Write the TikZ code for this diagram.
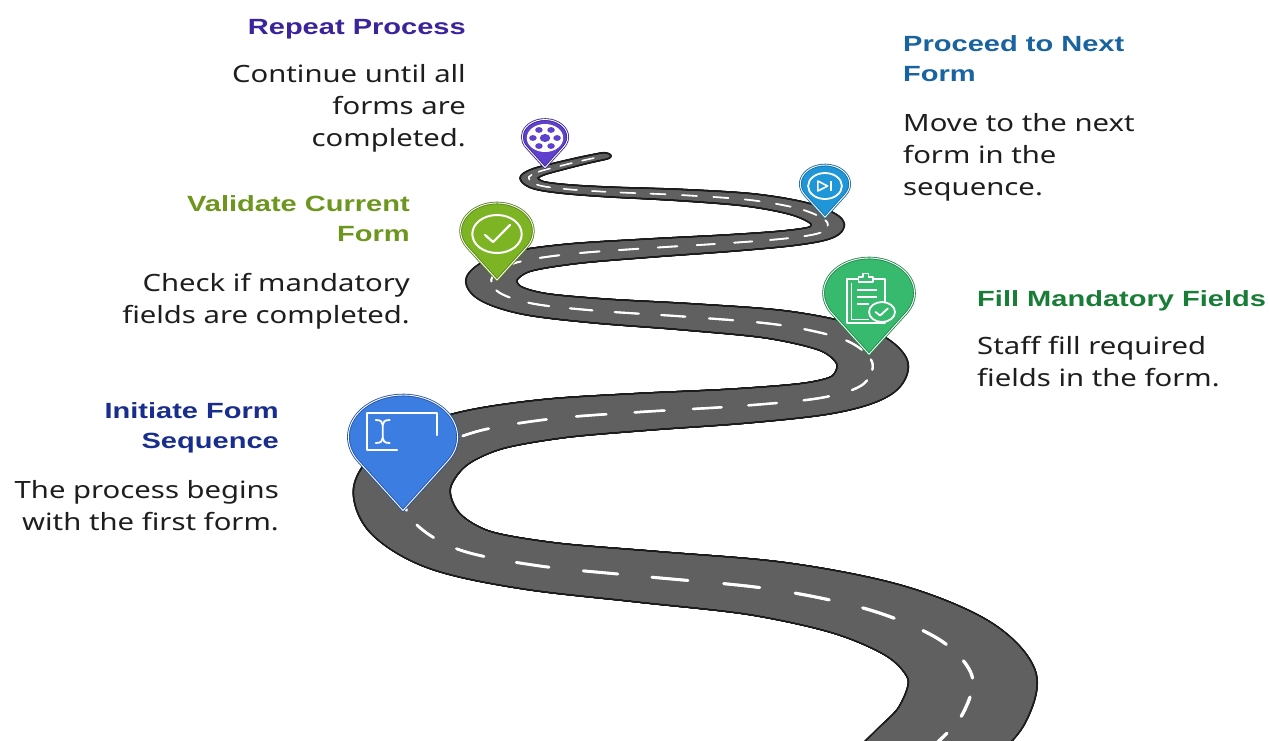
\documentclass[tikz,border=0pt]{standalone}
\usepackage{fontspec}
\setmainfont{Noto Sans}[FakeStretch=1.23]
\newfontfamily\headfont{Liberation Sans}[FakeStretch=1.32]
\usetikzlibrary{decorations.markings}

\definecolor{roadgray}{RGB}{96,96,96}
\definecolor{roadedge}{RGB}{28,28,28}
\definecolor{bodytext}{RGB}{30,30,30}
\definecolor{cRepeat}{RGB}{58,35,155}
\definecolor{cValid}{RGB}{108,150,30}
\definecolor{cInit}{RGB}{25,45,140}
\definecolor{cNext}{RGB}{25,100,160}
\definecolor{cFill}{RGB}{25,125,55}
\definecolor{pinPurple}{RGB}{95,65,205}
\definecolor{pinPurpleRim}{RGB}{62,38,150}
\definecolor{pinCyan}{RGB}{30,150,215}
\definecolor{pinCyanRim}{RGB}{20,108,168}
\definecolor{pinLime}{RGB}{125,180,35}
\definecolor{pinLimeRim}{RGB}{88,132,20}
\definecolor{pinGreen}{RGB}{55,185,110}
\definecolor{pinGreenRim}{RGB}{28,138,72}
\definecolor{pinBlue}{RGB}{60,125,225}
\definecolor{pinBlueRim}{RGB}{35,82,170}

% centre line of the winding road, from the far end down to the near end
\def\roadline{plot[smooth, tension=0.55] coordinates {
  (604,156) (585,160) (560,166) (538,172) (529,178) (538,185) (565,189)
  (610,192) (680,195) (750,200) (800,209) (826,221) (822,232) (790,238)
  (730,243) (650,248) (570,254) (515,263) (492,278) (500,293) (535,304)
  (600,311) (690,317) (780,325) (845,340) (872,362) (862,385) (820,398)
  (740,406) (640,412) (550,419) (475,432) (425,455) (402,488) (415,523)
  (460,550) (540,566) (650,577) (770,589) (870,610) (940,640) (972,676)
  (962,715) (935,745) (905,775)}}

\tikzset{
  % sweep an ellipse along the path; it widens towards the viewer
  roadbrush/.style 2 args={decoration={markings,
    mark=between positions 0 and 1 step 1.5pt with {
      \pgfmathsetmacro\rda{6+0.025*\pgfdecoratedcompleteddistance+#2}
      \pgfmathsetmacro\rdb{(6+0.025*\pgfdecoratedcompleteddistance)*(0.36+0.00004*\pgfdecoratedcompleteddistance)+#2}
      \pgftransformresetnontranslations
      \fill[#1] (0,0) ellipse [x radius=\rda pt, y radius=\rdb pt];
    }}, decorate},
  % centre line: dash phase follows the unforeshortened length of the road
  lanemarks/.style={decoration={markings,
    mark=between positions 0 and 1 step 1.5pt with {
      \pgfgettransformentries{\ma}{\mb}{\mc}{\md}{\mx}{\my}%
      \pgfmathsetmacro\dd{\pgfdecoratedcompleteddistance}%
      \pgfmathsetmacro\kk{0.36+0.00004*\dd}%
      \pgfmathsetmacro\dphase{\dashphase+1.5*sqrt(\ma*\ma+(\mb/\kk)*(\mb/\kk))/(25.7+0.02375*\dd)}%
      \global\let\dashphase\dphase
      \pgfmathsetmacro\dfrac{\dphase-floor(\dphase)}%
      \pgfmathsetmacro\dw{1.4+0.0008*\dd}%
      \ifdim\dfrac pt<0.5pt
        \draw[white, line width=\dw pt, line cap=round] (-1.7,0) -- (0,0);
      \fi
    }}, decorate},
  pinshape/.style={line join=round},
  pics/mappin/.style n args={3}{code={
    \pgfmathsetmacro\pinr{#1}
    \pgfmathsetmacro\pind{1.75*#1}
    \path[pinshape, fill=#2, draw=#3, line width=2.6pt]
      (0,\pind) -- (34.85:\pinr) arc[start angle=34.85, end angle=-214.85, radius=\pinr] -- cycle;
    \path[pinshape, draw=white, line width=0.9pt]
      (0,\pind) -- (34.85:\pinr) arc[start angle=34.85, end angle=-214.85, radius=\pinr] -- cycle;
  }},
  iconline/.style={draw=white, line width=2.2pt, line cap=round, line join=round},
  head/.style={font=\headfont\bfseries\fontsize{22}{30.5}\selectfont, inner sep=0pt},
  body/.style={font=\fontsize{23.8}{32}\selectfont, text=bodytext, inner sep=0pt}
}

\begin{document}
\begin{tikzpicture}[x=1pt, y=-1pt]
\useasboundingbox (0,0) rectangle (1269,740);
\fill[white] (0,0) rectangle (1269,740);
\begin{scope}
\clip (0,0) rectangle (1269,740);

% road surface with its dark rim
\path[roadbrush={roadedge}{2}] \roadline;
\path[roadbrush={roadgray}{0}] \roadline;

% lane markings
\gdef\dashphase{0.35}
\path[lanemarks] \roadline;
\end{scope}

% Repeat Process marker
\pic[xscale=1.3] at (545,137) {mappin={17.5}{pinPurple}{pinPurpleRim}};
\begin{scope}[shift={(545,137)}, xscale=1.3]
  \fill[white] (0,1) circle [radius=14];
  \fill[pinPurple] (0,1) circle [radius=4];
  \foreach \a in {0,60,...,300}
    \fill[pinPurple] (0,1) ++(\a:9.3) circle [radius=2.9];
\end{scope}

% Proceed to Next Form marker
\pic[xscale=1.3] at (825,184) {mappin={19}{pinCyan}{pinCyanRim}};
\begin{scope}[shift={(825,184)}, xscale=1.3]
  \draw[white, line width=1.8pt] (0,2) circle [radius=13];
  \draw[white, line width=1.6pt, line join=round] (-5.5,-3) -- (-5.5,7) -- (2,2) -- cycle;
  \draw[white, line width=1.8pt] (4.8,-3) -- (4.8,7);
\end{scope}

% Validate Current Form marker
\pic[xscale=1.3] at (497,231) {mappin={28}{pinLime}{pinLimeRim}};
\begin{scope}[shift={(497,231)}, xscale=1.3]
  \draw[white, line width=2pt] (0,3) circle [radius=19];
  \draw[iconline] (-9.2,4) -- (-3,11) -- (10,-6);
\end{scope}

% Fill Mandatory Fields marker
\pic[xscale=1.3] at (869,293) {mappin={35}{pinGreen}{pinGreenRim}};
\begin{scope}[shift={(869,293)}, xscale=1.3]
  \draw[white, line width=1.8pt, line join=round] (-17,-14) rectangle (12,30);
  \draw[white, line width=1.5pt] (-13.5,-10) -- (-13.5,26.5) -- (0,26.5);
  \draw[white, line width=1.5pt, line join=round, fill=pinGreen]
    (-8,-11) -- (-8,-16) -- (-4.5,-16) -- (-4.5,-19.5) -- (-0.5,-19.5)
    -- (-0.5,-16) -- (3,-16) -- (3,-11) -- cycle;
  \draw[white, line width=1.6pt] (-9,-3) -- (6,-3) (-9,4) -- (6,4) (-9,11) -- (0,11);
  \draw[white, line width=1.8pt, fill=pinGreen] (10,19) circle [radius=10];
  \draw[white, line width=1.8pt, line cap=round, line join=round]
    (5,19) -- (8.5,22.5) -- (14.5,15.5);
\end{scope}

% Initiate Form Sequence marker
\pic[xscale=1.3] at (403,437) {mappin={42}{pinBlue}{pinBlueRim}};
\begin{scope}[shift={(403,437)}, xscale=1.3]
  \draw[iconline] (-4.6,13) -- (-27.7,13) -- (-27.7,-24) -- (26.2,-24) -- (26.2,-2);
  \draw[white, line width=1.8pt, line cap=round]
    (-21,-17) .. controls (-17,-17) and (-15.6,-15) .. (-15.6,-12) -- (-15.6,1)
    .. controls (-15.6,4) and (-17,6) .. (-21,6);
  \draw[white, line width=1.8pt, line cap=round]
    (-10.2,-17) .. controls (-14.2,-17) and (-15.6,-15) .. (-15.6,-12)
    (-15.6,1) .. controls (-15.6,4) and (-14.2,6) .. (-10.2,6);
\end{scope}

% labels (each anchored at the baseline of its last line)
\node[head, text=cRepeat, anchor=base east, align=right] (t5) at (466,34) {Repeat Process};
\node[body, anchor=base east, align=right] (d5) at (466,146) {Continue until all\\forms are\\completed.};
\node[head, text=cValid, anchor=base east, align=right] (t4) at (410,241.5) {Validate Current\\Form};
\node[body, anchor=base east, align=right] (d4) at (410,323) {Check if mandatory\\fields are completed.};
\node[head, text=cInit, anchor=base east, align=right] (t1) at (279,448.5) {Initiate Form\\Sequence};
\node[body, anchor=base east, align=right] (d1) at (279,530) {The process begins\\with the first form.};
\node[head, text=cNext, anchor=base west, align=left] (t3) at (903,81.5) {Proceed to Next\\Form};
\node[body, anchor=base west, align=left] (d3) at (903,195) {Move to the next\\form in the\\sequence.};
\node[head, text=cFill, anchor=base west] (t2) at (977,306) {Fill Mandatory Fields};
\node[body, anchor=base west, align=left] (d2) at (977,386) {Staff fill required\\fields in the form.};
\end{tikzpicture}
\end{document}
